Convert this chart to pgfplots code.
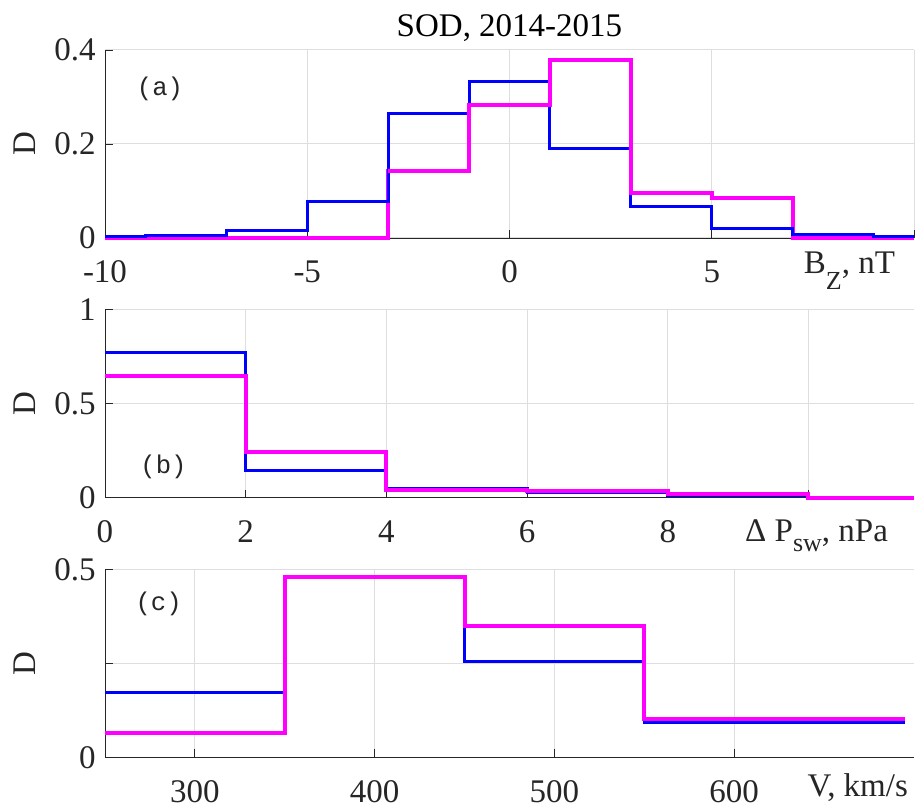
\documentclass[border=0pt]{standalone}
\usepackage{fontspec}
\setmainfont{Liberation Serif}
\newfontfamily\monofont{Liberation Mono}
\usepackage{pgfplots}
\pgfplotsset{compat=1.18}
\definecolor{axgray}{gray}{0.15}
\definecolor{gridgray}{gray}{0.87}
\definecolor{mag}{RGB}{255,0,255}
\pgfplotsset{
 myax/.style={
  scale only axis, width=404.5pt, height=94pt, anchor=south west, clip=false,
  axis x line=bottom, axis y line=left, axis line style={-, axgray, line width=0.4pt},
  tick align=inside, major tick length=4pt, tick style={axgray, line width=0.4pt},
  grid=major, grid style={gridgray, line width=0.5pt},
  ticklabel style={font=\fontsize{16.5}{18}\selectfont, text=axgray},
  xticklabel style={anchor=base, yshift=-22.5pt},
  yticklabel style={anchor=east, xshift=-1.2pt},
  ylabel={D}, ylabel style={at={(axis description cs:-0.0989,0.5)}, anchor=center, font=\fontsize{16.5}{18}\selectfont, text=axgray},
  xlabel style={font=\fontsize{16.5}{18}\selectfont, text=axgray, anchor=base east},
 },
 blueline/.style={blue, line width=1.5pt, const plot},
 magline/.style={mag, line width=2pt, const plot},
}
\begin{document}
\begin{tikzpicture}
\path[use as bounding box] (0,0) rectangle (460.5pt,404.5pt);
% (a)
\begin{axis}[myax, at={(52.5pt,285.5pt)},
  xmin=-10, xmax=10, ymin=0, ymax=0.4,
  xtick={-10,-5,0,5,10}, xticklabels={-10,-5,0,5,{}},
  ytick={0,0.2,0.4}, yticklabels={0,0.2,0.4},
  xlabel={B\raisebox{-8pt}{\fontsize{13}{14}\selectfont Z}, nT},
  xlabel style={at={(axis description cs:1,0)}, xshift=-6pt, yshift=-18pt},
  title={SOD, 2014-2015},
  title style={at={(axis description cs:0.5,1)}, anchor=base, yshift=0.6pt, font=\fontsize{16.5}{18}\selectfont, text=black}]
\addplot[magline] coordinates {(-10,0) (-3,0.142) (-1,0.283) (1,0.378) (3,0.095) (5,0.086) (7,0) (10,0)};
\addplot[blueline] coordinates {(-10,0.003) (-9,0.006) (-7,0.016) (-5,0.077) (-3,0.264) (-1,0.334) (1,0.191) (3,0.066) (5,0.021) (7,0.008) (9,0.003) (10,0.003)};
\addplot[magline] coordinates {(-3,0.142) (-1,0.283) (1,0.378) (3,0.095) (5,0.086) (7,0.086)};
\node[font=\monofont\fontsize{12.8}{14}\selectfont, text=axgray] at (axis cs:-8.64,0.317) {(a)};
\end{axis}
% (b)
\begin{axis}[myax, at={(52.5pt,155.65pt)},
  xmin=0, xmax=11.5, ymin=0, ymax=1,
  xtick={0,2,4,6,8,10}, xticklabels={0,2,4,6,8,{}},
  ytick={0,0.5,1}, yticklabels={0,0.5,1},
  xlabel={Δ P\raisebox{-5pt}{\fontsize{13}{14}\selectfont sw}, nPa},
  xlabel style={at={(axis description cs:1,0)}, xshift=-9.5pt, yshift=-22pt}]
\addplot[blueline] coordinates {(0,0.771) (2,0.146) (4,0.048) (6,0.027) (8,0.010) (10,0) (11.5,0)};
\addplot[magline] coordinates {(0,0.649) (2,0.245) (4,0.039) (6,0.036) (8,0.022) (10,0.001) (11.5,0.001)};
\node[font=\monofont\fontsize{12.8}{14}\selectfont, text=axgray] at (axis cs:0.832,0.163) {(b)};
\end{axis}
% (c)
\begin{axis}[myax, at={(52.5pt,25.85pt)},
  xmin=250, xmax=700, ymin=0, ymax=0.5,
  xtick={300,400,500,600}, xticklabels={300,400,500,600},
  ytick={0,0.25,0.5}, yticklabels={0,{},0.5},
  xlabel={V, km/s},
  xlabel style={at={(axis description cs:1,0)}, xshift=0.5pt, yshift=-19.7pt}]
\addplot[blueline] coordinates {(250,0.1735) (350,0.480) (450,0.2535) (550,0.0934) (695,0.0934)};
\addplot[magline] coordinates {(250,0.0657) (350,0.480) (450,0.3486) (550,0.102) (695,0.102)};
\node[font=\monofont\fontsize{12.8}{14}\selectfont, text=axgray] at (axis cs:279.8,0.409) {(c)};
\end{axis}
\end{tikzpicture}
\end{document}
